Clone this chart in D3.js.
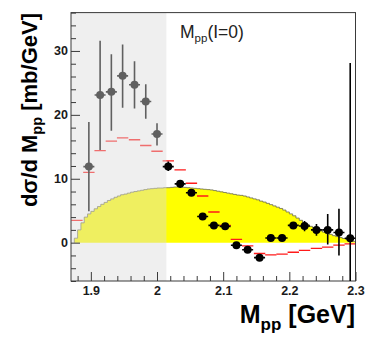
<!DOCTYPE html>
<html><head><meta charset="utf-8">
<script src="https://cdn.jsdelivr.net/npm/d3@7"></script>
<style>body{margin:0;background:#fff}svg{display:block}</style>
</head><body>
<svg id="chart" width="370" height="337"></svg>
<script>
// ---- data ----
const massCenters = [1.897,1.914,1.931,1.948,1.966,1.983,2.000,2.017,2.035,2.052,2.069,2.086,2.103,2.120,2.137,2.155,2.172,2.189,2.206,2.223,2.241,2.258,2.275,2.292];
const crossSection = [11.9,23.1,23.6,26.1,24.7,22.1,17.0,11.9,9.2,7.8,4.1,2.7,2.55,-0.4,-1.1,-2.35,0.73,0.73,2.7,2.6,2.0,2.0,1.6,0.7];
const errLow  = [4.9,14.5,17.5,21.1,21.0,19.4,15.2,11.2,8.6,7.3,3.6,2.2,2.05,-0.9,-1.6,-2.85,0.35,0.35,2.2,1.8,1.1,-0.3,-2.0,-26.7];
const errHigh = [18.9,31.6,29.5,31.0,28.4,24.8,18.7,12.7,9.8,8.3,4.6,3.2,3.05,0.1,-0.6,-1.85,1.1,1.1,3.2,3.4,2.9,4.5,5.3,28.1];

const redCenters = [1.879,1.897,1.914,1.931,1.948,1.966,1.983,2.000,2.017,2.035,2.052,2.069,2.086,2.103,2.120,2.137,2.155,2.172,2.189,2.206,2.223,2.241,2.258,2.275,2.292];
const redValues  = [3.5,11.0,14.4,15.9,16.4,16.1,15.2,14.3,12.8,11.4,9.3,7.3,4.8,2.7,0.5,-0.5,-1.7,-1.9,-1.8,-1.5,-1.2,-0.9,-0.7,-0.4,-0.2];

const yellowStart = 1.875, yellowWidth = 0.005;
const yellowValues = [0.7,2.0,3.1,4.0,4.5,4.9,5.3,5.65,6.0,6.3,6.6,6.85,7.1,7.3,7.5,7.6,7.75,7.9,8.0,8.1,8.2,8.3,8.4,8.45,8.5,
  8.55,8.55,8.6,8.6,8.65,8.7,8.7,8.65,8.65,8.6,8.55,8.5,8.45,8.4,8.35,8.3,8.25,8.15,8.05,7.95,7.85,7.75,7.65,7.55,7.45,7.4,7.3,7.15,7.0,6.85,6.7,6.5,6.35,6.15,5.95,5.75,5.55,5.35,5.1,4.8,4.5,4.2,3.85,3.5,3.15,2.85,2.55,2.3,2.05,1.85,1.65,1.45,1.3,1.1,0.95,0.8,0.65,0.5,0.35,0.2];

const shadedRange = [1.87, 2.0142];
const xTickValues = [1.9, 2.0, 2.1, 2.2, 2.3];
const xTickLabels = ["1.9", "2", "2.1", "2.2", "2.3"];
const yTickValues = [0, 10, 20, 30];
const yTickLabels = ["0", "10", "20", "30"];

// ---- layout ----
const svg = d3.select("#chart");
const L = 71, R = 355.5, T = 12.6, B = 281;
const x = d3.scaleLinear().domain([1.87, 2.3]).range([L, R]);
const y = d3.scaleLinear().domain([-6, 36]).range([B, T]);
const halfBin = 0.0086;

svg.append("defs").append("clipPath").attr("id", "clip")
  .append("rect").attr("x", L).attr("y", T).attr("width", R - L).attr("height", B - T);
const plot = svg.append("g").attr("clip-path", "url(#clip)");

// yellow histogram
const yPts = yellowValues.map((v, i) => [yellowStart + i * yellowWidth, v]);
yPts.push([yellowStart + yellowValues.length * yellowWidth, yellowValues[yellowValues.length - 1]]);
plot.append("path")
  .attr("d", d3.area().x(d => x(d[0])).y0(y(0)).y1(d => y(d[1])).curve(d3.curveStepAfter)(yPts))
  .attr("fill", "#ffff00");
plot.append("path")
  .attr("d", d3.line().x(d => x(d[0])).y(d => y(d[1])).curve(d3.curveStepAfter)([[yellowStart, 0], ...yPts]))
  .attr("fill", "none").attr("stroke", "#6b6b50").attr("stroke-width", 0.8);

// red model segments
plot.selectAll("line.red").data(redCenters).join("line")
  .attr("x1", (d) => x(d - halfBin)).attr("x2", d => x(d + halfBin))
  .attr("y1", (d, i) => y(redValues[i])).attr("y2", (d, i) => y(redValues[i]))
  .attr("stroke", "#ff1a1a").attr("stroke-width", 1.3);

// grey shaded region overlay
plot.append("rect")
  .attr("x", x(shadedRange[0])).attr("y", T)
  .attr("width", x(shadedRange[1]) - x(shadedRange[0])).attr("height", B - T)
  .attr("fill", "rgb(218,218,218)").attr("fill-opacity", 0.44);

// frame
svg.append("rect").attr("x", L).attr("y", T).attr("width", R - L).attr("height", B - T)
  .attr("fill", "none").attr("stroke", "#3a3a3a").attr("stroke-width", 1);

// axes
const tickFont = "bold 12.5px 'Liberation Sans', Arial, sans-serif";
const yMinor = d3.range(-6, 37, 2).filter(v => v % 10 !== 0);
const xMinor = [1.88,1.92,1.94,1.96,1.98,2.02,2.04,2.06,2.08,2.12,2.14,2.16,2.18,2.22,2.24,2.26,2.28];

const gyMinor = svg.append("g").attr("transform", `translate(${L},0)`)
  .call(d3.axisLeft(y).tickValues(yMinor).tickSize(-5).tickFormat(""));
const gy = svg.append("g").attr("transform", `translate(${L},0)`)
  .call(d3.axisLeft(y).tickValues(yTickValues).tickSize(-9).tickPadding(3)
    .tickFormat((d, i) => yTickLabels[i]));
const gxMinor = svg.append("g").attr("transform", `translate(0,${B})`)
  .call(d3.axisBottom(x).tickValues(xMinor).tickSize(-5).tickFormat(""));
const gx = svg.append("g").attr("transform", `translate(0,${B})`)
  .call(d3.axisBottom(x).tickValues(xTickValues).tickSize(-9).tickPadding(5)
    .tickFormat((d, i) => xTickLabels[i]));
[gyMinor, gy, gxMinor, gx].forEach(g => {
  g.select(".domain").remove();
  g.selectAll(".tick line").attr("stroke", "#3a3a3a");
  g.selectAll("text").style("font", tickFont).attr("fill", "#1a1a1a");
});

// data points
const pts = svg.append("g").attr("clip-path", "url(#clip)");
const col = d => d < shadedRange[1] ? "#606060" : "#000";
pts.selectAll("line.err").data(massCenters).join("line")
  .attr("x1", d => x(d)).attr("x2", d => x(d))
  .attr("y1", (d, i) => y(errLow[i])).attr("y2", (d, i) => y(errHigh[i]))
  .attr("stroke", d => col(d)).attr("stroke-width", 1.6);
pts.selectAll("line.xerr").data(massCenters).join("line")
  .attr("x1", d => x(d) - 5.5).attr("x2", d => x(d) + 5.5)
  .attr("y1", (d, i) => y(crossSection[i])).attr("y2", (d, i) => y(crossSection[i]))
  .attr("stroke", d => col(d)).attr("stroke-width", 1.6);
pts.selectAll("circle").data(massCenters).join("circle")
  .attr("cx", d => x(d)).attr("cy", (d, i) => y(crossSection[i])).attr("r", 4)
  .attr("fill", d => col(d));

// annotation
const ann = svg.append("text").attr("x", 180).attr("y", 38)
  .style("font", "17.5px 'Liberation Sans', Arial, sans-serif").attr("fill", "#222");
ann.append("tspan").text("M");
ann.append("tspan").attr("dy", 4).style("font-size", "11.5px").text("pp");
ann.append("tspan").attr("dy", -4).text("(I=0)");

// axis titles
const xt = svg.append("text").attr("x", 355).attr("y", 323).attr("text-anchor", "end")
  .style("font", "bold 25px 'Liberation Sans', Arial, sans-serif").attr("fill", "#000");
xt.append("tspan").text("M");
xt.append("tspan").attr("dy", 7).style("font-size", "17px").text("pp");
xt.append("tspan").attr("dy", -7).text(" [GeV]");

const yt = svg.append("text").attr("transform", "translate(37,13) rotate(-90)").attr("text-anchor", "end")
  .style("font", "bold 22px 'Liberation Sans', Arial, sans-serif").attr("fill", "#000");
yt.append("tspan").text("dσ/d M");
yt.append("tspan").attr("dy", 5).style("font-size", "14.5px").text("pp");
yt.append("tspan").attr("dy", -5).text(" [mb/GeV]");
</script>
</body></html>
